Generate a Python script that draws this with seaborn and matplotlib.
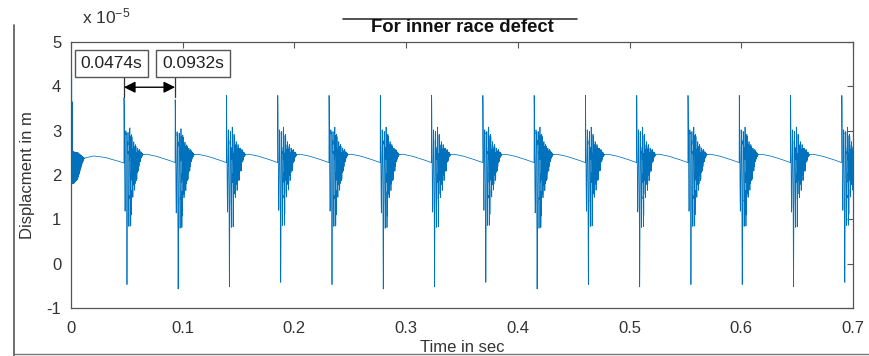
import numpy as np
import pandas as pd
import matplotlib
matplotlib.use("Agg")
import matplotlib.pyplot as plt
import seaborn as sns
from matplotlib.lines import Line2D

# ---------------- data (values in units of 1e-5 m) ----------------
impulse_times = [0.0474, 0.0932, 0.1391, 0.1850, 0.2309, 0.2768, 0.3227, 0.3686,
                 0.4145, 0.4604, 0.5063, 0.5522, 0.5981, 0.6440, 0.6899]
peak_values = [3.80, 3.75, 3.85, 3.85, 3.85, 3.85, 3.85, 3.85,
               3.85, 3.85, 3.85, 3.85, 3.85, 3.85, 3.85]
trough_values = [-0.55, -0.65, -0.60, -0.50, -0.55, -0.65, -0.60, -0.50,
                 -0.65, -0.55, -0.60, -0.55, -0.55, -0.60, -0.50]

# slow baseline inside one cycle (time after strike, s)
cyc_tau = [0.0, 0.003, 0.008, 0.012, 0.015, 0.020, 0.028, 0.037, 0.047]
cyc_base = [2.30, 2.25, 2.20, 2.30, 2.45, 2.47, 2.43, 2.36, 2.27]
# main ringing envelopes after a strike (share of the peak / trough excursion)
ring_tau = [0.0, 0.0008, 0.0015, 0.0027, 0.0035, 0.0045, 0.0060, 0.0075, 0.012, 0.016]
ring_up = [1.00, 0.65, 0.50, 0.42, 0.40, 0.38, 0.35, 0.12, 0.05, 0.0]
ring_down = [0.10, 0.35, 0.53, 1.00, 0.53, 0.42, 0.39, 0.12, 0.04, 0.0]
# fast small ringing (dark band), absolute amplitude
fast_tau = [0.0, 0.004, 0.0065, 0.009, 0.012, 0.015, 0.017]
fast_amp = [0.0, 0.15, 0.45, 0.38, 0.25, 0.08, 0.0]

# start-up transient before the first strike
start_tau = [0.0, 0.0003, 0.003, 0.008, 0.012, 0.020, 0.030, 0.040, 0.0474]
start_base = [0.0, 2.20, 2.20, 2.30, 2.38, 2.43, 2.40, 2.33, 2.27]
start_env_tau = [0.0, 0.0003, 0.0008, 0.0015, 0.006, 0.010, 0.012]
start_up = [0.0, 2.10, 2.10, 0.35, 0.25, 0.08, 0.0]
start_down = [0.0, 0.30, 0.40, 0.40, 0.35, 0.08, 0.0]

ring_freq = 577.0    # Hz: peak at strike, deepest trough ~2.6 ms later
fast_freq = 3100.0   # Hz
fs = 40000
x_ticks = [0, 0.1, 0.2, 0.3, 0.4, 0.5, 0.6, 0.7]
y_ticks = [-1, 0, 1, 2, 3, 4, 5]
tip_labels = ["0.0474s", "0.0932s"]

# ---------------- assemble the signal ----------------
t = np.arange(0, 0.7, 1.0 / fs)
y = np.zeros_like(t)

m = t < impulse_times[0]
tau = t[m]
s = np.sin(2 * np.pi * 2115.0 * tau)
b = np.interp(tau, start_tau, start_base)
up = np.interp(tau, start_env_tau, start_up)
dn = np.interp(tau, start_env_tau, start_down)
y[m] = b + np.where(s > 0, s * up, s * dn)

phase = np.pi / 2 - 2 * np.pi * ring_freq * 0.0001
edges = impulse_times + [0.7]
for k, t0 in enumerate(impulse_times):
    m = (t >= t0) & (t < edges[k + 1])
    tau = t[m] - t0
    s = np.sin(2 * np.pi * ring_freq * tau + phase)
    b = np.interp(tau, cyc_tau, cyc_base)
    up = np.interp(tau, ring_tau, ring_up) * (peak_values[k] - cyc_base[0])
    dn = np.interp(tau, ring_tau, ring_down) * (cyc_base[1] - trough_values[k])
    fast = np.interp(tau, fast_tau, fast_amp) * np.sin(2 * np.pi * fast_freq * tau)
    y[m] = b + np.where(s > 0, s * up, s * dn) + fast

df = pd.DataFrame({"Time": t, "Disp": y})

# ---------------- plot ----------------
sns.set_style("white")
plt.rcParams["font.family"] = ["Liberation Sans", "DejaVu Sans"]
plt.rcParams["mathtext.fontset"] = "custom"
plt.rcParams["mathtext.rm"] = "Liberation Sans"
plt.rcParams["mathtext.it"] = "Liberation Sans"

fig = plt.figure(figsize=(8.7, 3.56), dpi=100)
ax = fig.add_axes([0.0816, 0.1348, 0.8989, 0.7472])

sns.lineplot(data=df, x="Time", y="Disp", ax=ax, color="#0072BD", linewidth=0.55,
             estimator=None, sort=False)

ax.set_xlim(0, 0.7)
ax.set_ylim(-1, 5)
ax.set_xticks(x_ticks)
ax.set_xticklabels([("%g" % v) for v in x_ticks])
ax.set_yticks(y_ticks)
ax.set_yticklabels([str(v) for v in y_ticks])
ax.tick_params(direction="in", top=True, right=True, length=4, width=0.8,
               color="#555555", labelcolor="#333333", labelsize=12)
ax.tick_params(axis="x", pad=9)
ax.tick_params(axis="y", pad=7)
for sp in ax.spines.values():
    sp.set_visible(True)
    sp.set_color("#555555")
    sp.set_linewidth(0.9)

ax.set_xlabel("Time in sec", fontsize=12, color="#333333", labelpad=3)
ax.set_ylabel("Displacment in m", fontsize=12, color="#333333", labelpad=8)

fig.text(0.094, 0.935, r"x 10$^{-5}$", fontsize=12.5, color="#333333", va="baseline")
fig.text(0.532, 0.922, "For inner race defect", fontsize=13.3, fontweight="bold",
         color="#111111", ha="center", va="center")
fig.add_artist(Line2D([0.394, 0.663], [0.946, 0.946], color="#333333", lw=1.2))

# data tips
bbox = dict(boxstyle="square,pad=0.35", fc="white", ec="#555555", lw=1.0)
ax.text(0.0363, 4.52, tip_labels[0], fontsize=12.5, ha="center", va="center",
        color="#222222", bbox=bbox)
ax.text(0.1092, 4.52, tip_labels[1], fontsize=12.5, ha="center", va="center",
        color="#222222", bbox=bbox)
for xv in impulse_times[:2]:
    ax.plot([xv, xv], [4.25, 3.75], color="#333333", lw=0.9)
ax.annotate("", xy=(impulse_times[0], 3.98), xytext=(impulse_times[1], 3.98),
            arrowprops=dict(arrowstyle="<|-|>", color="black", lw=1.0,
                            mutation_scale=17, shrinkA=0, shrinkB=0))

# outer frame fragments of the screenshot
fig.add_artist(Line2D([0.0161, 0.0161], [0.0, 0.93], color="#555555", lw=1.2))
fig.add_artist(Line2D([0.0161, 1.0], [0.006, 0.006], color="#777777", lw=1.0))

fig.savefig("out.png", dpi=100)
